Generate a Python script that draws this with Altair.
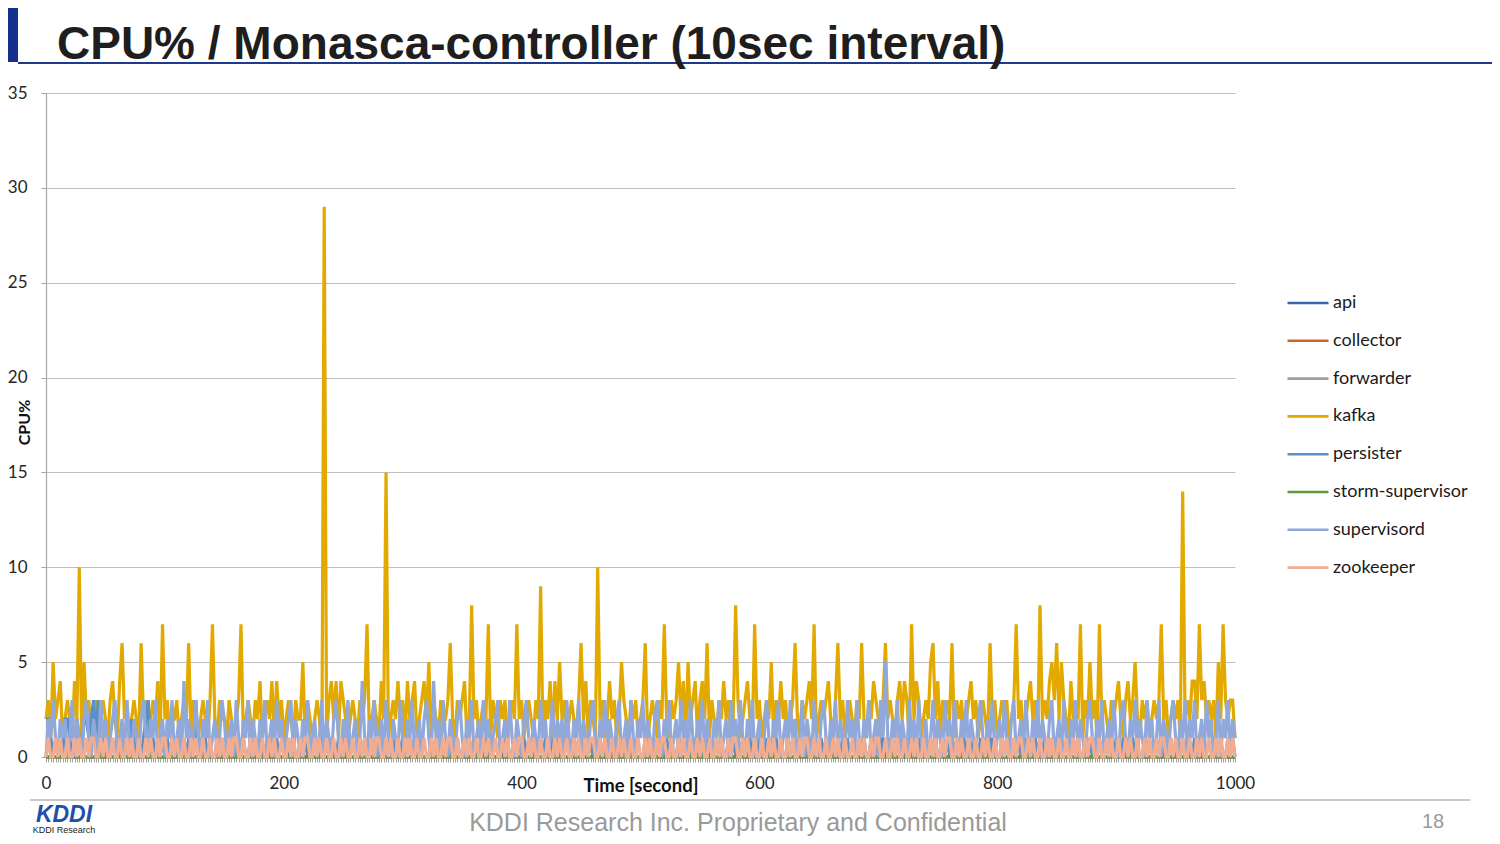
import altair as alt
import pandas as pd

# ---------------- data (2-second steps) ----------------
time_s = list(range(0, 1001, 2))

series_names = ["api", "collector", "forwarder", "kafka", "persister",
                "storm-supervisor", "supervisord", "zookeeper"]
series_colors = ["#3A64AE", "#C9652B", "#9E9E9E", "#E2AA00", "#5A8FC8",
                 "#5E9A3E", "#90A8DA", "#F2AD90"]

kafka = [
    2, 3, 1, 5, 2, 3, 4, 1, 2, 3,
    2, 1, 4, 2, 10, 1, 5, 2, 3, 1,
    2, 3, 1, 2, 3, 2, 1, 3, 4, 2,
    1, 4, 6, 2, 3, 1, 2, 3, 2, 1,
    6, 2, 3, 1, 2, 3, 2, 4, 1, 7,
    2, 3, 1, 2, 2, 3, 1, 2, 3, 2,
    6, 1, 3, 2, 1, 2, 3, 2, 1, 3,
    7, 2, 1, 3, 2, 2, 1, 3, 2, 1,
    2, 3, 7, 1, 2, 3, 2, 1, 3, 2,
    4, 1, 2, 3, 2, 4, 1, 4, 2, 3,
    1, 2, 3, 2, 1, 3, 2, 2, 5, 1,
    3, 2, 1, 2, 3, 2, 0, 29, 1, 3,
    4, 2, 4, 1, 4, 3, 2, 1, 2, 3,
    2, 1, 3, 2, 3, 7, 1, 2, 3, 2,
    1, 4, 2, 15, 1, 2, 3, 2, 4, 2,
    3, 1, 4, 2, 3, 4, 1, 2, 3, 4,
    2, 5, 1, 3, 2, 1, 3, 2, 2, 3,
    6, 2, 1, 3, 2, 3, 4, 1, 2, 8,
    2, 3, 1, 2, 3, 2, 7, 1, 3, 2,
    1, 3, 2, 3, 1, 2, 3, 2, 7, 2,
    3, 1, 2, 3, 2, 1, 3, 2, 9, 1,
    3, 2, 4, 1, 4, 2, 5, 2, 3, 1,
    2, 3, 2, 1, 3, 6, 2, 4, 1, 3,
    2, 1, 10, 2, 3, 1, 2, 4, 2, 3,
    1, 2, 5, 3, 2, 1, 3, 2, 3, 1,
    2, 3, 6, 1, 2, 3, 2, 1, 3, 2,
    7, 2, 1, 3, 2, 3, 5, 2, 4, 1,
    5, 2, 3, 4, 1, 3, 4, 2, 6, 1,
    3, 2, 1, 3, 2, 4, 2, 3, 1, 2,
    8, 3, 1, 2, 3, 4, 2, 1, 7, 2,
    3, 1, 2, 3, 2, 5, 1, 3, 2, 4,
    2, 3, 1, 2, 3, 6, 2, 1, 3, 2,
    3, 4, 2, 7, 1, 2, 3, 2, 3, 4,
    2, 1, 3, 6, 2, 3, 1, 2, 3, 2,
    1, 3, 2, 6, 2, 1, 3, 2, 4, 3,
    2, 1, 3, 6, 2, 3, 2, 1, 3, 4,
    2, 4, 3, 1, 7, 2, 4, 3, 1, 2,
    3, 2, 5, 6, 2, 4, 1, 3, 2, 3,
    2, 6, 1, 3, 2, 3, 1, 2, 3, 4,
    2, 3, 1, 2, 3, 2, 1, 6, 2, 3,
    1, 2, 3, 2, 3, 1, 2, 3, 7, 2,
    3, 1, 2, 3, 4, 2, 3, 1, 8, 2,
    3, 2, 4, 5, 3, 6, 2, 5, 3, 2,
    1, 4, 2, 3, 2, 7, 1, 3, 2, 5,
    2, 3, 1, 7, 2, 3, 2, 1, 3, 2,
    3, 4, 2, 1, 3, 4, 2, 3, 5, 2,
    1, 3, 2, 3, 1, 2, 3, 2, 3, 7,
    2, 3, 1, 2, 3, 2, 3, 1, 14, 2,
    3, 2, 4, 4, 2, 7, 3, 4, 2, 3,
    2, 3, 1, 5, 2, 7, 3, 2, 3, 3,
    1,
]

supervisord = [
    0, 2, 1, 3, 1, 0, 2, 1, 2, 0,
    1, 3, 0, 2, 1, 0, 2, 3, 1, 0,
    2, 1, 0, 3, 1, 2, 0, 1, 2, 3,
    0, 1, 2, 0, 3, 1, 0, 2, 1, 0,
    2, 3, 1, 0, 2, 1, 3, 0, 1, 2,
    0, 2, 1, 3, 0, 1, 2, 0, 4, 1,
    2, 0, 1, 3, 1, 0, 2, 1, 3, 0,
    1, 2, 0, 1, 3, 2, 0, 1, 2, 0,
    3, 1, 0, 2, 1, 3, 0, 2, 1, 0,
    2, 1, 3, 0, 1, 2, 0, 3, 1, 2,
    0, 1, 2, 3, 0, 2, 1, 0, 2, 1,
    3, 0, 1, 2, 0, 1, 3, 0, 2, 1,
    0, 2, 3, 1, 0, 2, 1, 3, 0, 1,
    2, 0, 1, 4, 1, 0, 2, 1, 3, 0,
    1, 2, 0, 3, 1, 0, 2, 1, 0, 3,
    1, 0, 2, 1, 3, 0, 1, 2, 0, 2,
    3, 1, 0, 4, 1, 2, 0, 3, 1, 0,
    2, 1, 0, 2, 3, 1, 0, 2, 1, 3,
    0, 1, 2, 0, 3, 1, 2, 0, 1, 2,
    3, 0, 1, 2, 0, 3, 1, 0, 2, 1,
    0, 2, 3, 1, 0, 2, 1, 0, 3, 1,
    2, 0, 1, 3, 0, 2, 1, 2, 0, 3,
    1, 0, 2, 1, 3, 0, 2, 1, 0, 2,
    3, 1, 0, 2, 1, 3, 0, 2, 1, 0,
    2, 3, 0, 1, 2, 0, 3, 1, 0, 2,
    1, 3, 0, 2, 1, 0, 2, 3, 1, 0,
    2, 1, 3, 0, 1, 2, 0, 3, 1, 2,
    0, 3, 1, 0, 2, 1, 3, 0, 2, 1,
    0, 2, 1, 3, 0, 1, 2, 0, 3, 1,
    2, 0, 3, 1, 0, 2, 1, 3, 0, 1,
    2, 0, 1, 3, 1, 0, 2, 1, 3, 0,
    1, 2, 0, 3, 1, 2, 0, 1, 3, 0,
    2, 1, 0, 3, 1, 0, 2, 3, 1, 0,
    2, 1, 3, 0, 2, 1, 0, 3, 1, 2,
    0, 3, 1, 0, 2, 1, 3, 0, 1, 2,
    0, 3, 1, 5, 1, 0, 2, 1, 3, 0,
    2, 1, 0, 3, 1, 2, 0, 3, 1, 0,
    2, 0, 1, 3, 0, 2, 1, 0, 3, 1,
    2, 0, 3, 1, 0, 2, 1, 3, 0, 2,
    1, 0, 2, 3, 1, 0, 2, 1, 3, 0,
    1, 2, 0, 3, 1, 0, 2, 3, 0, 1,
    2, 0, 3, 1, 0, 2, 1, 3, 0, 2,
    1, 0, 2, 3, 0, 1, 2, 0, 3, 1,
    0, 2, 1, 3, 0, 2, 1, 0, 2, 3,
    1, 0, 2, 1, 3, 0, 1, 2, 0, 3,
    1, 0, 2, 3, 1, 0, 2, 1, 3, 0,
    2, 1, 0, 3, 1, 2, 0, 1, 3, 0,
    2, 1, 0, 2, 3, 1, 0, 2, 1, 3,
    0, 2, 1, 3, 0, 1, 2, 0, 3, 1,
    2, 0, 1, 3, 0, 2, 1, 3, 0, 2,
    1,
]

zookeeper = [
    0, 1, 0, 0, 1, 0, 1, 0, 0, 1,
    0, 0, 1, 0, 1, 0, 0, 1, 0, 1,
    1, 0, 0, 1, 0, 1, 0, 0, 1, 0,
    0, 1, 0, 0, 1, 0, 1, 0, 0, 1,
    0, 0, 1, 0, 1, 0, 0, 1, 0, 1,
    1, 0, 0, 1, 0, 1, 0, 0, 1, 0,
    0, 1, 0, 1, 0, 0, 1, 0, 0, 1,
    0, 0, 1, 0, 1, 0, 0, 1, 0, 1,
    1, 0, 0, 1, 0, 0, 1, 0, 1, 0,
    0, 1, 0, 0, 1, 0, 1, 0, 0, 1,
    0, 0, 1, 0, 1, 0, 0, 1, 0, 1,
    1, 0, 0, 1, 0, 1, 0, 0, 1, 0,
    0, 1, 0, 0, 1, 0, 1, 0, 0, 1,
    0, 0, 1, 0, 1, 0, 0, 1, 0, 1,
    1, 0, 0, 1, 0, 1, 0, 0, 1, 0,
    0, 1, 0, 1, 0, 0, 1, 0, 0, 1,
    0, 0, 1, 0, 1, 0, 0, 1, 0, 1,
    1, 0, 0, 1, 0, 0, 1, 0, 1, 0,
    0, 1, 0, 0, 1, 0, 1, 0, 0, 1,
    0, 0, 1, 0, 1, 0, 0, 1, 0, 1,
    1, 0, 0, 1, 0, 1, 0, 0, 1, 0,
    0, 1, 0, 0, 1, 0, 1, 0, 0, 1,
    0, 0, 1, 0, 1, 0, 0, 1, 0, 1,
    1, 0, 0, 1, 0, 1, 0, 0, 1, 0,
    0, 1, 0, 1, 0, 0, 1, 0, 0, 1,
    0, 0, 1, 0, 1, 0, 0, 1, 0, 1,
    1, 0, 0, 1, 0, 0, 1, 0, 1, 0,
    0, 1, 0, 0, 1, 0, 1, 0, 0, 1,
    0, 0, 1, 0, 1, 0, 0, 1, 0, 1,
    1, 0, 0, 1, 0, 1, 0, 0, 1, 0,
    0, 1, 0, 0, 1, 0, 1, 0, 0, 1,
    0, 0, 1, 0, 1, 0, 0, 1, 0, 1,
    1, 0, 0, 1, 0, 1, 0, 0, 1, 0,
    0, 1, 0, 1, 0, 0, 1, 0, 0, 1,
    0, 0, 1, 0, 1, 0, 0, 1, 0, 1,
    1, 0, 0, 1, 0, 0, 1, 0, 1, 0,
    0, 1, 0, 0, 1, 0, 1, 0, 0, 1,
    0, 0, 1, 0, 1, 0, 0, 1, 0, 1,
    1, 0, 0, 1, 0, 1, 0, 0, 1, 0,
    0, 1, 0, 0, 1, 0, 1, 0, 0, 1,
    0, 0, 1, 0, 1, 0, 0, 1, 0, 1,
    1, 0, 0, 1, 0, 1, 0, 0, 1, 0,
    0, 1, 0, 1, 0, 0, 1, 0, 0, 1,
    0, 0, 1, 0, 1, 0, 0, 1, 0, 1,
    1, 0, 0, 1, 0, 0, 1, 0, 1, 0,
    0, 1, 0, 0, 1, 0, 1, 0, 0, 1,
    0, 0, 1, 0, 1, 0, 0, 1, 0, 1,
    1, 0, 0, 1, 0, 1, 0, 0, 1, 0,
    0, 1, 0, 0, 1, 0, 1, 0, 0, 1,
    0, 0, 1, 0, 1, 0, 0, 1, 0, 1,
    0,
]

persister = [
    2, 2, 1, 0, 1, 0, 1, 0, 2, 2,
    1, 0, 0, 2, 1, 0, 2, 2, 1, 2,
    3, 1, 3, 0, 1, 0, 1, 0, 1, 0,
    1, 0, 1, 0, 1, 0, 2, 1, 0, 1,
    0, 1, 2, 3, 0, 1, 0, 1, 0, 1,
    0, 1, 0, 1, 0, 0, 1, 0, 1, 0,
    1, 0, 0, 3, 0, 1, 0, 1, 0, 0,
    0, 0, 1, 0, 1, 0, 0, 1, 0, 1,
    0, 1, 0, 1, 0, 0, 1, 0, 1, 0,
    1, 0, 0, 1, 0, 1, 0, 1, 0, 0,
    0, 0, 1, 0, 1, 0, 0, 1, 0, 1,
    0, 1, 0, 1, 0, 0, 1, 0, 1, 0,
    1, 0, 0, 1, 0, 1, 0, 1, 0, 0,
    0, 0, 1, 0, 1, 0, 0, 1, 0, 1,
    0, 1, 0, 1, 0, 0, 1, 0, 1, 0,
    1, 0, 0, 1, 0, 1, 0, 1, 0, 0,
    0, 0, 1, 0, 1, 0, 0, 1, 0, 1,
    0, 1, 0, 1, 0, 0, 1, 0, 1, 0,
    1, 0, 0, 1, 0, 1, 0, 1, 0, 0,
    0, 0, 1, 0, 1, 0, 0, 1, 0, 1,
    0, 1, 0, 1, 0, 0, 1, 0, 1, 0,
    1, 0, 0, 1, 0, 1, 0, 1, 0, 0,
    0, 0, 1, 0, 1, 0, 0, 1, 0, 1,
    0, 1, 0, 1, 0, 0, 1, 0, 1, 0,
    1, 0, 0, 1, 0, 1, 0, 1, 0, 0,
    0, 0, 1, 0, 1, 0, 0, 1, 0, 1,
    0, 1, 0, 1, 0, 0, 1, 0, 1, 0,
    1, 0, 0, 1, 0, 1, 0, 1, 0, 0,
    0, 0, 1, 0, 1, 0, 0, 1, 0, 1,
    0, 1, 0, 1, 0, 0, 1, 0, 1, 0,
    1, 0, 0, 1, 0, 1, 0, 1, 0, 0,
    0, 0, 1, 0, 1, 0, 0, 1, 0, 1,
    0, 1, 0, 1, 0, 0, 1, 0, 1, 0,
    1, 0, 0, 1, 0, 1, 0, 1, 0, 0,
    0, 0, 1, 0, 1, 0, 0, 1, 0, 1,
    0, 1, 0, 1, 0, 0, 1, 0, 1, 0,
    1, 0, 0, 1, 0, 1, 0, 1, 0, 0,
    0, 0, 1, 0, 1, 0, 0, 1, 0, 1,
    0, 1, 0, 1, 0, 0, 1, 0, 1, 0,
    1, 0, 0, 1, 0, 1, 0, 1, 0, 0,
    0, 0, 1, 0, 1, 0, 0, 1, 0, 1,
    0, 1, 0, 1, 0, 0, 1, 0, 1, 0,
    1, 0, 0, 1, 0, 1, 0, 1, 0, 0,
    0, 0, 1, 0, 1, 0, 0, 1, 0, 1,
    0, 1, 0, 1, 0, 0, 1, 0, 1, 0,
    1, 0, 0, 1, 0, 1, 0, 1, 0, 0,
    0, 0, 1, 0, 1, 0, 0, 1, 0, 1,
    0, 1, 0, 1, 0, 0, 1, 0, 1, 0,
    1, 0, 0, 1, 0, 1, 0, 1, 0, 0,
    0, 0, 1, 0, 1, 0, 0, 1, 0, 1,
    0,
]

# sparse series: times (s) where the value is 1, zero elsewhere
api_one_at = [202, 232, 300, 386, 478, 488, 556, 612, 640, 672, 704, 796, 824, 912]
storm_one_at = [710]
collector_one_at = []
forwarder_one_at = []


def sparse(ones):
    return [1 if t in ones else 0 for t in time_s]


api = sparse(api_one_at)
collector = sparse(collector_one_at)
forwarder = sparse(forwarder_one_at)
storm = sparse(storm_one_at)

all_series = [api, collector, forwarder, kafka, persister, storm, supervisord, zookeeper]

rows = []
for name, vals in zip(series_names, all_series):
    assert len(vals) == len(time_s), (name, len(vals))
    for t, v in zip(time_s, vals):
        rows.append({"series": name, "time": t, "cpu": v})
df = pd.DataFrame(rows)

x_tick_values = time_s
y_tick_values = [0, 5, 10, 15, 20, 25, 30, 35]

# ---------------- chart ----------------
W, H = 1189, 664
LBL_FONT = "Lato"

lines = alt.Chart(df).mark_line(strokeWidth=3.2).encode(
    x=alt.X(
        "time:Q",
        scale=alt.Scale(domain=[0, 1000], nice=False, zero=True),
        axis=alt.Axis(
            values=x_tick_values,
            format="d",
            labelExpr="datum.value % 200 === 0 ? datum.label : ''",
            labelOverlap=False,
            labelFlush=False,
            labelFont=LBL_FONT, labelFontSize=17, labelColor="#262626",
            labelPadding=13,
            tickSize=5, tickColor="#A0A0A0", tickWidth=1,
            domainColor="#A6A6A6", domainWidth=1.2,
            grid=False,
            title="Time [second]",
            titleFont=LBL_FONT, titleFontSize=18.5, titleFontWeight="bold",
            titleColor="#111111", titleBaseline="middle", titleY=28,
        ),
    ),
    y=alt.Y(
        "cpu:Q",
        scale=alt.Scale(domain=[0, 35], nice=False),
        axis=alt.Axis(
            values=y_tick_values,
            labelFont=LBL_FONT, labelFontSize=17, labelColor="#262626",
            labelPadding=14,
            tickSize=5, tickColor="#A6A6A6",
            domainColor="#A6A6A6", domainWidth=1.2,
            grid=True, gridColor="#BFBFBF", gridWidth=1.2,
            title="CPU%",
            titleFont=LBL_FONT, titleFontSize=16, titleFontWeight="bold",
            titleColor="#111111", titleX=-22, titleY=H / 2 - 3,
            titleAlign="center", titleBaseline="middle",
        ),
    ),
    color=alt.Color(
        "series:N",
        scale=alt.Scale(domain=series_names, range=series_colors),
        legend=alt.Legend(
            title=None, orient="none", legendX=1240, legendY=188,
            symbolType="stroke", symbolSize=1681, symbolStrokeWidth=2.6,
            labelFont=LBL_FONT, labelFontSize=18, labelColor="#1a1a1a",
            labelOffset=3, labelLimit=300, rowPadding=6.8,
        ),
    ),
)

one = pd.DataFrame({"k": [0]})


def deco_rule(x, x2, y, y2, color, width):
    return alt.Chart(one).mark_rule(color=color, strokeWidth=width).encode(
        x=alt.value(x), x2=alt.value(x2), y=alt.value(y), y2=alt.value(y2))


def deco_text(txt, x, y, size, color, font="Liberation Sans", weight="normal",
              align="left", italic=False):
    return alt.Chart(one).mark_text(
        text=txt, font=font, fontSize=size, color=color, fontWeight=weight,
        align=align, baseline="alphabetic", fontStyle="italic" if italic else "normal",
    ).encode(x=alt.value(x), y=alt.value(y))


side_bar = alt.Chart(one).mark_rect(color="#14308C").encode(
    x=alt.value(-46), x2=alt.value(-28), y=alt.value(-93), y2=alt.value(-31))
title_line = deco_rule(-28, 1460, -30, -30, "#1F3A8C", 2)
title_text = deco_text("CPU% / Monasca-controller (10sec interval)", 11, -34, 46,
                       "#1E1E1E", weight="bold")
footer_line = deco_rule(-16, 1424, 707, 707, "#C8C8C8", 2)
footer_text = deco_text("KDDI Research Inc. Proprietary and Confidential", 692, 738,
                        25, "#9A9A9A", align="center")
page_no = deco_text("18", 1387, 735, 20, "#9A9A9A", align="center")
logo = deco_text("KDDI", 18, 729, 23, "#1F4FA8", weight="bold", align="center",
                 italic=True)
logo_sub = deco_text("KDDI Research", 18, 740, 9, "#222222", align="center")

chart = alt.layer(
    lines, side_bar, title_line, title_text, footer_line, footer_text, page_no,
    logo, logo_sub,
).properties(
    width=W, height=H,
    autosize=alt.AutoSizeParams(type="none"),
    padding={"left": 38, "top": 85, "right": 257, "bottom": 79},
    background="white",
).configure_view(stroke=None)

chart.save("out.html", embed_options={"renderer": "svg", "actions": False})
